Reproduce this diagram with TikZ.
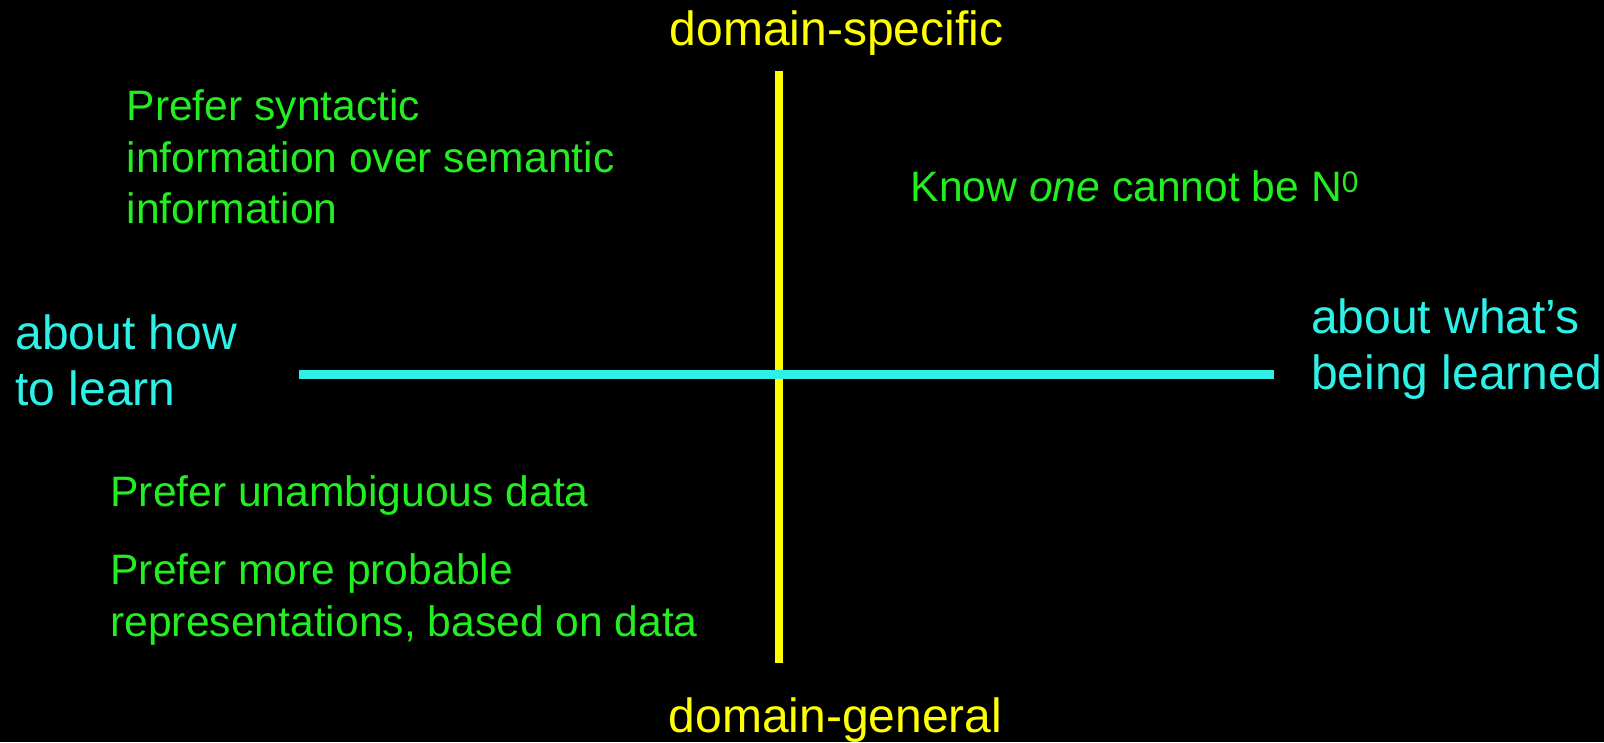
\documentclass[tikz,border=0pt]{standalone}
\usepackage{fontspec}
\setmainfont{Liberation Sans}
\definecolor{axisyellow}{RGB}{255,255,0}
\definecolor{axiscyan}{RGB}{46,240,230}
\definecolor{notegreen}{RGB}{34,238,34}
\tikzset{
  ylabel/.style={text=axisyellow, inner sep=0pt, anchor=base, font=\fontsize{48}{57}\selectfont},
  clabel/.style={text=axiscyan, inner sep=0pt, anchor=base west, font=\fontsize{48}{56}\selectfont},
  note/.style={text=notegreen, inner sep=0pt, anchor=base west, font=\fontsize{42.6}{51.5}\selectfont},
  yaxis/.style={draw=axisyellow, line width=8pt},
  caxis/.style={draw=axiscyan, line width=9pt}
}
\begin{document}
\begin{tikzpicture}[x=1pt,y=-1pt]
\fill[black] (0,0) rectangle (1604,742);
\useasboundingbox (0,0) rectangle (1604,742);
\coordinate (vtop) at (779,71);
\coordinate (vbot) at (779,663);
\coordinate (hl) at (299,374.5);
\coordinate (hr) at (1274,374.5);
\draw[yaxis] (vtop) -- (vbot);
\draw[caxis] (hl) -- (hr);
\node[ylabel] (dspec) at (836.5,45.7) {domain-specific};
\node[ylabel] (dgen) at (835.5,732.7) {domain-general};
\node[clabel] (how) at (15.3,349) {\vtop{\hbox{about how}\hbox{to learn}}};
\node[clabel] (what) at (1311,333) {\vtop{\hbox{about what’s}\hbox{being learned}}};
\node[note] (syn) at (126.5,120.7) {\vtop{\hbox{Prefer syntactic}\hbox{information over semantic}\hbox{information}}};
\node[note] (know) at (910.6,201.7) {Know \textit{one} cannot be N\textsuperscript{0}};
\node[note] (unamb) at (110.2,506) {Prefer unambiguous data};
\node[note] (prob) at (110.2,584.5) {\vtop{\hbox{Prefer more probable}\hbox{representations, based on data}}};
\end{tikzpicture}
\end{document}
